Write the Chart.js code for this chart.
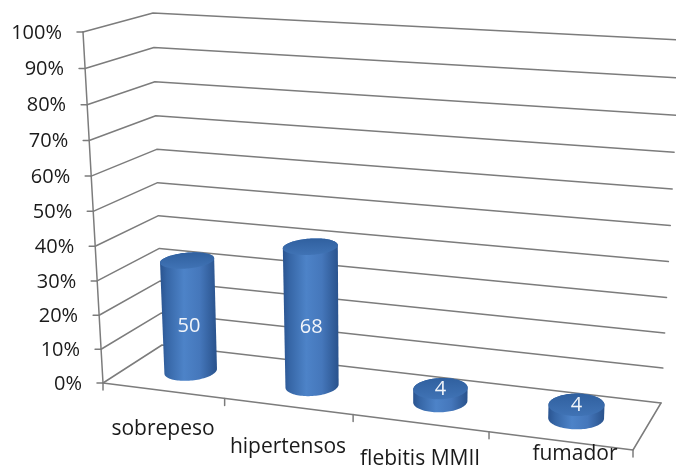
<!DOCTYPE html>
<html><head><meta charset="utf-8">
<script src="https://cdn.jsdelivr.net/npm/chart.js@4.4.1/dist/chart.umd.min.js"></script>
<style>html,body{margin:0;padding:0;background:#fff;overflow:hidden}#wrap{width:676px;height:471px;position:relative}</style>
</head><body><div id="wrap"><canvas id="c" width="676" height="471"></canvas></div>
<script>
// ---- data ----
const categories = ['sobrepeso', 'hipertensos', 'flebitis MMII', 'fumador'];
const percentValues = [33, 40.5, 3.7, 3.7];
const countLabels = ['50', '68', '4', '4'];
const yTicks = [0, 10, 20, 30, 40, 50, 60, 70, 80, 90, 100];
const yTickLabels = ['0%', '10%', '20%', '30%', '40%', '50%', '60%', '70%', '80%', '90%', '100%'];

// ---- layout of the 3D box (screen corners, [u][v][w]) ----
const FRAME = {
  p000: [103, 383], p010: [83, 32], p100: [633, 450], p110: [643, 66],
  p001: [162, 345], p011: [153, 13], p101: [661, 403], p111: [680, 40]
};
const PERSP_U = 1.119, PERSP_V = 1.045;
const CYL_RU = 0.048, CYL_RW = 0.24, CYL_W = 0.5;
const LABEL_NUDGE = [[0, 38], [0, 41], [0, 36], [15, 13]];
const GRID = '#7c7c7c', TEXT = '#1a1a1a';

function persp(t, c) { return t / (t + c * (1 - t)); }
function lerp(p, q, t) { return [p[0] + (q[0] - p[0]) * t, p[1] + (q[1] - p[1]) * t]; }
function project(u, v, w) {
  const a = persp(u, PERSP_U), b = persp(v, PERSP_V), F = FRAME;
  const x00 = lerp(F.p000, F.p100, a), x10 = lerp(F.p010, F.p110, a);
  const x01 = lerp(F.p001, F.p101, a), x11 = lerp(F.p011, F.p111, a);
  return lerp(lerp(x00, x10, b), lerp(x01, x11, b), w);
}
function hull(pts) {
  pts = pts.slice().sort((a, b) => a[0] - b[0] || a[1] - b[1]);
  const cr = (o, a, b) => (a[0] - o[0]) * (b[1] - o[1]) - (a[1] - o[1]) * (b[0] - o[0]);
  const lo = [], up = [];
  for (const p of pts) { while (lo.length >= 2 && cr(lo[lo.length - 2], lo[lo.length - 1], p) <= 0) lo.pop(); lo.push(p); }
  for (let i = pts.length - 1; i >= 0; i--) { const p = pts[i]; while (up.length >= 2 && cr(up[up.length - 2], up[up.length - 1], p) <= 0) up.pop(); up.push(p); }
  up.pop(); lo.pop(); return lo.concat(up);
}
function line(ctx, a, b) { ctx.beginPath(); ctx.moveTo(a[0], a[1]); ctx.lineTo(b[0], b[1]); ctx.stroke(); }

const scene3d = {
  id: 'scene3d',
  afterDraw(chart) {
    const ctx = chart.ctx, ca = chart.chartArea;
    const xs = chart.scales.x, ys = chart.scales.y;
    const uOf = px => (px - ca.left) / (ca.right - ca.left);
    const vOf = py => (ca.bottom - py) / (ca.bottom - ca.top);
    ctx.save();
    ctx.strokeStyle = GRID; ctx.lineWidth = 1.5; ctx.lineCap = 'round'; ctx.lineJoin = 'round';
    ys.ticks.forEach(t => {
      const v = vOf(ys.getPixelForValue(t.value));
      const a = project(0, v, 0), b = project(0, v, 1), c = project(1, v, 1);
      ctx.beginPath(); ctx.moveTo(a[0], a[1]); ctx.lineTo(b[0], b[1]); ctx.lineTo(c[0], c[1]); ctx.stroke();
      line(ctx, a, [a[0] - 6, a[1]]);
    });
    line(ctx, project(0, 0, 0), project(0, 1, 0));
    const f0 = project(0, 0, 0), f1 = project(1, 0, 0), f2 = project(1, 0, 1);
    ctx.beginPath(); ctx.moveTo(f0[0], f0[1]); ctx.lineTo(f1[0], f1[1]); ctx.lineTo(f2[0], f2[1]); ctx.stroke();
    const n = categories.length;
    const half = (xs.getPixelForValue(1) - xs.getPixelForValue(0)) / 2;
    for (let i = 0; i <= n; i++) {
      const px = i < n ? xs.getPixelForValue(i) - half : xs.getPixelForValue(n - 1) + half;
      const p = project(uOf(px), 0, 0);
      line(ctx, p, [p[0], p[1] + 7]);
    }
    ctx.fillStyle = TEXT; ctx.font = "20px 'Open Sans'"; ctx.textAlign = 'right'; ctx.textBaseline = 'middle';
    ys.ticks.forEach(t => {
      const p = project(0, vOf(ys.getPixelForValue(t.value)), 0);
      ctx.fillText(yTickLabels[yTicks.indexOf(t.value)], p[0] - 21, p[1] + 1);
    });
    ctx.font = "21px 'Open Sans'"; ctx.textAlign = 'center';
    categories.forEach((c, i) => {
      const p = project(uOf(xs.getPixelForValue(i)), 0, 0);
      ctx.fillText(c, p[0] + LABEL_NUDGE[i][0], p[1] + LABEL_NUDGE[i][1]);
    });
    const meta = chart.getDatasetMeta(0);
    meta.data.forEach((bar, i) => {
      const uc = uOf(bar.x), vt = vOf(bar.y), vb = vOf(ys.getPixelForValue(0));
      const N = 96, top = [], bot = [];
      for (let k = 0; k < N; k++) {
        const th = k / N * Math.PI * 2;
        const u = uc + CYL_RU * Math.cos(th), w = CYL_W + CYL_RW * Math.sin(th);
        top.push(project(u, vt, w)); bot.push(project(u, vb, w));
      }
      const h = hull(top.concat(bot));
      let minX = Infinity, maxX = -Infinity;
      h.forEach(p => { minX = Math.min(minX, p[0]); maxX = Math.max(maxX, p[0]); });
      const g = ctx.createLinearGradient(minX, 0, maxX, 0);
      g.addColorStop(0, '#2a5490'); g.addColorStop(0.12, '#3666a6'); g.addColorStop(0.42, '#4d83c8');
      g.addColorStop(0.7, '#4577bb'); g.addColorStop(1, '#29528c');
      ctx.beginPath(); h.forEach((p, k) => k ? ctx.lineTo(p[0], p[1]) : ctx.moveTo(p[0], p[1])); ctx.closePath();
      ctx.fillStyle = g; ctx.fill();
      let minY = Infinity, maxY = -Infinity;
      top.forEach(p => { minY = Math.min(minY, p[1]); maxY = Math.max(maxY, p[1]); });
      const gt = ctx.createLinearGradient(0, minY, 0, maxY);
      gt.addColorStop(0, '#30609f'); gt.addColorStop(1, '#4073b5');
      ctx.beginPath(); top.forEach((p, k) => k ? ctx.lineTo(p[0], p[1]) : ctx.moveTo(p[0], p[1])); ctx.closePath();
      ctx.fillStyle = gt; ctx.fill();
      const midC = project(uc, (vt + vb) / 2, CYL_W);
      const midF = project(uc, (vt + vb) / 2, CYL_W - CYL_RW);
      const bodyH = project(uc, vb, CYL_W)[1] - project(uc, vt, CYL_W)[1];
      const lp = bodyH > 30 ? [midC[0], midF[1]] : project(uc, vt, CYL_W);
      ctx.fillStyle = '#f2f5fa'; ctx.font = "20px 'Open Sans'"; ctx.textAlign = 'center'; ctx.textBaseline = 'middle';
      ctx.fillText(countLabels[i], lp[0], lp[1] + 1);
    });
    ctx.restore();
  }
};

new Chart(document.getElementById('c'), {
  type: 'bar',
  data: { labels: categories, datasets: [{ data: percentValues, backgroundColor: 'rgba(0,0,0,0)', borderWidth: 0 }] },
  options: {
    responsive: false, animation: false, events: [],
    layout: { padding: 0 },
    plugins: { legend: { display: false }, tooltip: { enabled: false } },
    scales: {
      x: { display: false },
      y: { display: false, min: 0, max: 100, afterBuildTicks: s => { s.ticks = yTicks.map(v => ({ value: v })); } }
    }
  },
  plugins: [scene3d]
});
</script></body></html>
